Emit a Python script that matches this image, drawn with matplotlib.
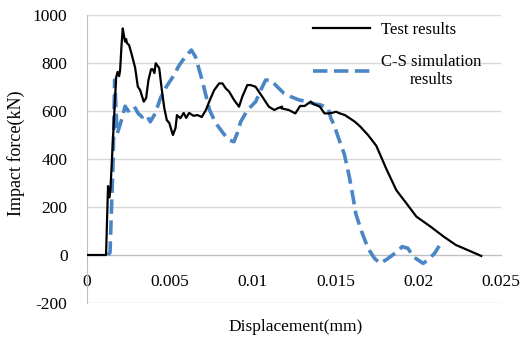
import matplotlib
matplotlib.use("Agg")
import matplotlib.pyplot as plt
import numpy as np

plt.rcParams['font.family'] = ['Liberation Serif', 'DejaVu Serif']
plt.rcParams['axes.unicode_minus'] = False

test_disp = [0.0, 0.00115, 0.00127, 0.00136, 0.00142, 0.00158, 0.00176, 0.00185, 0.00194,
             0.00200, 0.00209, 0.00216, 0.00224, 0.00230, 0.00236, 0.00242, 0.00254, 0.00271,
             0.00291, 0.00307, 0.00321, 0.00333, 0.00343, 0.00357, 0.00371, 0.00387, 0.00397,
             0.00407, 0.00415, 0.00436, 0.00452, 0.00467, 0.00482, 0.00497, 0.00510, 0.00519,
             0.00535, 0.00543, 0.00564, 0.00584, 0.00599, 0.00617, 0.00643, 0.00667, 0.00693,
             0.00718, 0.00738, 0.00768, 0.00798, 0.00818, 0.00838, 0.00858, 0.00888, 0.00918,
             0.00938, 0.00968, 0.00988, 0.01018, 0.01058, 0.01098, 0.01131, 0.01150,
             0.01178, 0.01175, 0.01219, 0.01258, 0.01287, 0.01314, 0.01351, 0.01365,
             0.01406, 0.01434, 0.01457, 0.01485, 0.01503, 0.01527, 0.01557, 0.01588, 0.01618,
             0.01650, 0.01697, 0.01747, 0.01808, 0.01868, 0.01929, 0.01989, 0.02075, 0.02155,
             0.02227, 0.02381]
test_force = [0, 0, 287, 240, 280, 500, 740, 763, 745,
              770, 880, 944, 910, 889, 900, 882, 875, 833,
              779, 701, 687, 660, 639, 654, 729, 774, 774,
              758, 799, 779, 687, 611, 562, 550, 520, 500,
              530, 583, 570, 592, 571, 592, 580, 583, 575,
              604, 639, 687, 715, 715, 694, 681, 646, 618,
              660, 708, 708, 701, 660, 618, 604, 611,
              618, 611, 604, 590, 621, 621, 639, 630,
              618, 590, 590, 593, 597, 590, 583, 569, 555,
              535, 500, 455, 358, 270, 215, 160, 118, 76,
              42, -4]

sim_disp = [0.00127, 0.00139, 0.00158, 0.00167, 0.00176, 0.00182, 0.00194, 0.00212, 0.00230,
            0.00248, 0.00267, 0.00285, 0.00309, 0.00333, 0.00358, 0.00382, 0.00412, 0.00443,
            0.00479, 0.00519, 0.00558, 0.00594, 0.00630, 0.00655, 0.00695, 0.00740, 0.00778,
            0.00823, 0.00857, 0.00887, 0.00907, 0.00928, 0.00969, 0.00999, 0.01019, 0.01049,
            0.01079, 0.01109, 0.01149, 0.01189, 0.01230, 0.01280, 0.01331, 0.01372, 0.01412,
            0.01457, 0.01473, 0.01493, 0.01523, 0.01554, 0.01584, 0.01606, 0.01624, 0.01655,
            0.01697, 0.01736, 0.01770, 0.01806, 0.01846, 0.01885, 0.01903, 0.01938, 0.01970,
            0.02008, 0.02030, 0.02059, 0.02099, 0.02127]
sim_force = [0, 10, 400, 729, 600, 505, 530, 570, 620,
             600, 610, 620, 590, 575, 585, 555, 590, 653,
             701, 743, 792, 826, 854, 826, 729, 604, 549,
             507, 479, 472, 507, 555, 604, 625, 639, 687,
             729, 729, 701, 674, 660, 646, 639, 630, 625,
             611, 569, 540, 479, 420, 326, 243, 170, 104,
             28, -14, -35, -20, 0, 21, 35, 28, -7,
             -25, -35, -20, 7, 38]

yticks = [-200, 0, 200, 400, 600, 800, 1000]
xticks = [0, 0.005, 0.01, 0.015, 0.02, 0.025]
xticklabels = ['0', '0.005', '0.01', '0.015', '0.02', '0.025']

fig = plt.figure(figsize=(5.2, 3.4), dpi=100)
ax = fig.add_axes([87/520, 1 - 303/340, (501-87)/520, (303-15)/340])

blue = '#4a86c6'
ax.plot(sim_disp, sim_force, color=blue, lw=2.6, ls=(0, (4, 1.8)), label='C-S simulation\nresults', zorder=3)
ax.plot(test_disp, test_force, color='black', lw=1.6, label='Test results', zorder=4)

ax.set_xlim(0, 0.025)
ax.set_ylim(-200, 1000)
ax.set_yticks(yticks)
ax.set_xticks(xticks)
ax.set_xticklabels(xticklabels)
ax.grid(axis='y', color='#d9d9d9', lw=1)
ax.set_axisbelow(True)
for s in ['top', 'right']:
    ax.spines[s].set_visible(False)
ax.spines['left'].set_color('#bfbfbf')
ax.spines['bottom'].set_position(('data', 0))
ax.spines['bottom'].set_color('#bfbfbf')
ax.tick_params(axis='both', length=0, labelsize=12.5)
ax.tick_params(axis='y', pad=14)
ax.tick_params(axis='x', pad=14)

ax.set_ylabel('Impact force(kN)', fontsize=13)
ax.yaxis.set_label_coords(-0.15, 0.52)
ax.set_xlabel('Displacement(mm)', fontsize=12.5)
ax.xaxis.set_label_coords(0.505, -0.055)

h, l = ax.get_legend_handles_labels()
leg = ax.legend(h[::-1], l[::-1], loc='upper left', bbox_to_anchor=(313/520, 1 - 22/340),
                bbox_transform=fig.transFigure, frameon=False, fontsize=12,
                handlelength=3.4, handletextpad=0.7, labelspacing=0.95, borderpad=0, borderaxespad=0)
for t in leg.get_texts():
    t.set_multialignment('center')

fig.savefig('out.png', dpi=100)
